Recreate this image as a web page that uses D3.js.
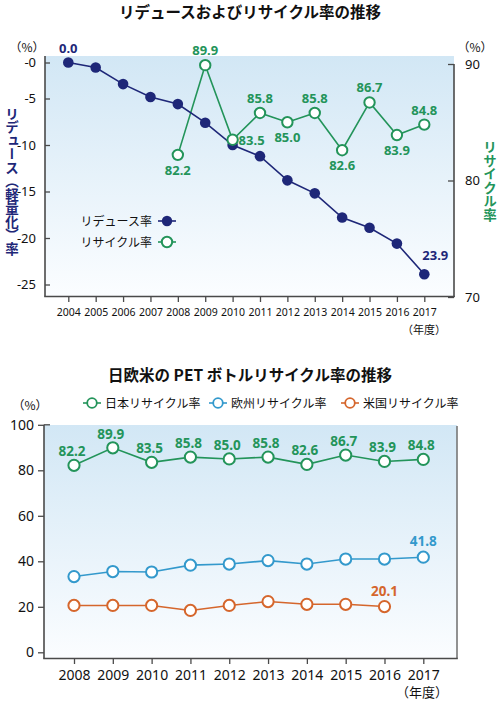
<!DOCTYPE html>
<html><head><meta charset="utf-8">
<script src="https://cdn.jsdelivr.net/npm/d3@7"></script>
<style>
html,body{margin:0;padding:0;background:#fff;}
svg{display:block;font-family:"Noto Sans CJK JP","Noto Sans",sans-serif;}
</style></head>
<body>
<script>
// ---------- data ----------
const reduceYears = [2004,2005,2006,2007,2008,2009,2010,2011,2012,2013,2014,2015,2016,2017];
const reduceRate  = [0.0,-0.7,-3.0,-4.8,-5.6,-7.6,-10.0,-11.2,-13.8,-15.2,-17.8,-18.9,-20.6,-23.9];
const recycleYears = [2008,2009,2010,2011,2012,2013,2014,2015,2016,2017];
const recycleRate  = [82.2,89.9,83.5,85.8,85.0,85.8,82.6,86.7,83.9,84.8];
const leftTicks  = [0,-5,-10,-15,-20,-25];
const rightTicks = [70,80,90];

const pYears = [2008,2009,2010,2011,2012,2013,2014,2015,2016,2017];
const japanRate  = [82.2,89.9,83.5,85.8,85.0,85.8,82.6,86.7,83.9,84.8];
const europeRate = [33.3,35.5,35.3,38.3,38.8,40.3,38.8,41.0,41.0,41.8];
const usaYears   = [2008,2009,2010,2011,2012,2013,2014,2015,2016];
const usaRate    = [20.6,20.6,20.6,18.4,20.6,22.3,21.1,21.1,20.1];
const bottomTicks = [0,20,40,60,80,100];

const title1 = "リデュースおよびリサイクル率の推移";
const title2 = "日欧米の PET ボトルリサイクル率の推移";

// ---------- styles ----------
const NAVY = "#1e2778", GREEN = "#23945a", BLUE = "#3399cc", ORANGE = "#d5662c", AXIS = "#4a4a4a";

const svg = d3.select("body").append("svg").attr("width",500).attr("height",702);
const defs = svg.append("defs");
const grad = defs.append("linearGradient").attr("id","bg").attr("x1",0).attr("y1",0).attr("x2",0).attr("y2",1);
grad.append("stop").attr("offset","0%").attr("stop-color","#d2e7f5");
grad.append("stop").attr("offset","100%").attr("stop-color","#fbfdff");

// ================= TOP CHART =================
svg.append("text").attr("x",250).attr("y",18).attr("text-anchor","middle")
  .attr("font-size",15.5).attr("font-weight","bold").attr("fill","#111").text(title1);

const x1 = d3.scalePoint().domain(reduceYears).range([68.3,424.3]);
const yL = d3.scaleLinear().domain([0,-5,-25]).range([62.5,98.5,284.5]);
const yR = d3.scaleLinear().domain([70,90]).range([297,64]);

svg.append("rect").attr("x",45).attr("y",56).attr("width",409).attr("height",240).attr("fill","url(#bg)");

// left axis
const gL = svg.append("g").attr("transform","translate(45,0)")
  .call(d3.axisLeft(yL).tickValues(leftTicks).tickSize(-5).tickPadding(9)
    .tickFormat(d => "-" + Math.abs(d)));
gL.select(".domain").remove();
gL.selectAll(".tick line").attr("stroke",AXIS).attr("stroke-width",1.3);
gL.selectAll(".tick text").attr("font-size",13).attr("fill","#111").attr("font-family","Noto Sans, sans-serif");
svg.append("line").attr("x1",45).attr("x2",45).attr("y1",56).attr("y2",296.5).attr("stroke",AXIS).attr("stroke-width",1.6);

// right axis
const gR = svg.append("g").attr("transform","translate(454,0)")
  .call(d3.axisRight(yR).tickValues(rightTicks).tickSize(-6).tickPadding(11));
gR.select(".domain").remove();
gR.selectAll(".tick line").attr("stroke",AXIS).attr("stroke-width",1.3);
gR.selectAll(".tick text").attr("font-size",13).attr("fill","#111").attr("font-family","Noto Sans, sans-serif");
svg.append("line").attr("x1",454).attr("x2",454).attr("y1",64).attr("y2",297).attr("stroke",AXIS).attr("stroke-width",1.6);

// bottom axis
const gX1 = svg.append("g").attr("transform","translate(0,296)")
  .call(d3.axisBottom(x1).tickSize(6).tickPadding(7));
gX1.select(".domain").remove();
gX1.selectAll(".tick line").attr("stroke",AXIS).attr("stroke-width",1.3);
gX1.selectAll(".tick text").attr("font-size",10.5).attr("fill","#111").attr("font-family","Noto Sans, sans-serif");
svg.append("line").attr("x1",44.2).attr("x2",454.8).attr("y1",296.5).attr("y2",296.5).attr("stroke",AXIS).attr("stroke-width",1.6);
svg.append("text").attr("x",424).attr("y",334).attr("text-anchor","middle").attr("font-size",11).attr("fill","#111").text("（年度）");

// units
svg.append("text").attr("x",27).attr("y",52).attr("text-anchor","middle").attr("font-size",12).attr("fill","#111").text("（%）");
svg.append("text").attr("x",475).attr("y",52).attr("text-anchor","middle").attr("font-size",12).attr("fill","#111").text("（%）");

// axis titles (vertical)
svg.append("text").attr("x",12).attr("y",181).attr("text-anchor","middle")
  .style("writing-mode","vertical-rl").attr("font-size",13.5).attr("font-weight","bold").attr("fill",NAVY)
  .text("リデュース（軽量化）率");
svg.append("text").attr("x",490).attr("y",181).attr("text-anchor","middle")
  .style("writing-mode","vertical-rl").attr("font-size",13.5).attr("font-weight","bold").attr("fill",GREEN)
  .text("リサイクル率");

// recycle line (green)
const recData = recycleYears.map((y,i)=>({y, v: recycleRate[i]}));
svg.append("path").datum(recData).attr("fill","none").attr("stroke",GREEN).attr("stroke-width",1.6)
  .attr("d", d3.line().x(d=>x1(d.y)).y(d=>yR(d.v)));
// reduce line (navy)
const redData = reduceYears.map((y,i)=>({y, v: reduceRate[i]}));
svg.append("path").datum(redData).attr("fill","none").attr("stroke",NAVY).attr("stroke-width",1.6)
  .attr("d", d3.line().x(d=>x1(d.y)).y(d=>yL(d.v)));
svg.selectAll(".red").data(redData).enter().append("circle")
  .attr("cx",d=>x1(d.y)).attr("cy",d=>yL(d.v)).attr("r",5.3).attr("fill",NAVY);
svg.selectAll(".rec").data(recData).enter().append("circle")
  .attr("cx",d=>x1(d.y)).attr("cy",d=>yR(d.v)).attr("r",5.2).attr("fill","#fff").attr("stroke",GREEN).attr("stroke-width",2);

// labels
const recPos = ["below","above","right","above","below","above","below","above","below","above"];
svg.selectAll(".recl").data(recData).enter().append("text")
  .attr("x",(d,i)=> recPos[i]==="right" ? x1(d.y)+19 : x1(d.y))
  .attr("y",(d,i)=> recPos[i]==="above" ? yR(d.v)-10 : recPos[i]==="below" ? yR(d.v)+20 : yR(d.v)+5)
  .attr("text-anchor","middle").attr("font-size",13).attr("font-weight","bold").attr("fill",GREEN)
  .attr("font-family","Noto Sans, sans-serif")
  .text(d=>d.v.toFixed(1));
const firstR = redData[0], lastR = redData[redData.length-1];
svg.append("text").attr("x",x1(firstR.y)).attr("y",yL(firstR.v)-10).attr("text-anchor","middle")
  .attr("font-size",13).attr("font-weight","bold").attr("fill",NAVY).attr("font-family","Noto Sans, sans-serif")
  .text(Math.abs(firstR.v).toFixed(1));
svg.append("text").attr("x",x1(lastR.y)+11).attr("y",yL(lastR.v)-14).attr("text-anchor","middle")
  .attr("font-size",13).attr("font-weight","bold").attr("fill",NAVY).attr("font-family","Noto Sans, sans-serif")
  .text(Math.abs(lastR.v).toFixed(1));

// legend top
const leg1 = [{t:"リデュース率", c:NAVY, filled:true, y:221},{t:"リサイクル率", c:GREEN, filled:false, y:242}];
leg1.forEach(l=>{
  svg.append("text").attr("x",152).attr("y",l.y+4.5).attr("text-anchor","end").attr("font-size",12).attr("fill","#111").text(l.t);
  svg.append("line").attr("x1",158).attr("x2",176).attr("y1",l.y).attr("y2",l.y).attr("stroke",l.c).attr("stroke-width",1.6);
  svg.append("circle").attr("cx",167).attr("cy",l.y).attr("r",5.2)
    .attr("fill", l.filled ? l.c : "#fff").attr("stroke", l.c).attr("stroke-width", l.filled?0:2);
});

// ================= BOTTOM CHART =================
svg.append("text").attr("x",250).attr("y",381).attr("text-anchor","middle")
  .attr("font-size",15.5).attr("font-weight","bold").attr("fill","#111").text(title2);

const x2 = d3.scalePoint().domain(pYears).range([74,423.3]);
const y2 = d3.scaleLinear().domain([0,100]).range([652.3,424.8]);

svg.append("rect").attr("x",44).attr("y",425).attr("width",413).attr("height",233).attr("fill","url(#bg)");

const gB = svg.append("g").attr("transform","translate(44,0)")
  .call(d3.axisLeft(y2).tickValues(bottomTicks).tickSize(6).tickPadding(4));
gB.select(".domain").remove();
gB.selectAll(".tick line").attr("stroke",AXIS).attr("stroke-width",1.3);
gB.selectAll(".tick text").attr("font-size",14).attr("fill","#111").attr("font-family","Noto Sans, sans-serif");
svg.append("line").attr("x1",44).attr("x2",44).attr("y1",424.8).attr("y2",658.5).attr("stroke",AXIS).attr("stroke-width",1.6);
svg.append("line").attr("x1",44).attr("x2",50).attr("y1",y2(100)).attr("y2",y2(100)).attr("stroke",AXIS).attr("stroke-width",1.3);
svg.append("line").attr("x1",457).attr("x2",457).attr("y1",426).attr("y2",658.5).attr("stroke","#777").attr("stroke-width",1.6);

const gX2 = svg.append("g").attr("transform","translate(0,658)")
  .call(d3.axisBottom(x2).tickSize(6).tickPadding(6));
gX2.select(".domain").remove();
gX2.selectAll(".tick line").attr("stroke",AXIS).attr("stroke-width",1.3);
gX2.selectAll(".tick text").attr("font-size",14).attr("fill","#111").attr("font-family","Noto Sans, sans-serif");
svg.append("line").attr("x1",43.2).attr("x2",457.8).attr("y1",658.5).attr("y2",658.5).attr("stroke",AXIS).attr("stroke-width",1.6);
svg.append("text").attr("x",422).attr("y",697).attr("text-anchor","middle").attr("font-size",13).attr("fill","#111").text("（年度）");
svg.append("text").attr("x",30).attr("y",410).attr("text-anchor","middle").attr("font-size",12).attr("fill","#111").text("（%）");

const series = [
  {name:"日本リサイクル率", c:GREEN, years:pYears, vals:japanRate, lx:92},
  {name:"欧州リサイクル率", c:BLUE, years:pYears, vals:europeRate, lx:218},
  {name:"米国リサイクル率", c:ORANGE, years:usaYears, vals:usaRate, lx:350}
];
series.forEach(s=>{
  const d = s.years.map((y,i)=>({y, v:s.vals[i]}));
  svg.append("path").datum(d).attr("fill","none").attr("stroke",s.c).attr("stroke-width",1.6)
    .attr("d", d3.line().x(p=>x2(p.y)).y(p=>y2(p.v)));
  svg.selectAll(null).data(d).enter().append("circle")
    .attr("cx",p=>x2(p.y)).attr("cy",p=>y2(p.v)).attr("r",5.6).attr("fill","#fff").attr("stroke",s.c).attr("stroke-width",2);
  // legend
  svg.append("line").attr("x1",s.lx-9).attr("x2",s.lx+9).attr("y1",403).attr("y2",403).attr("stroke",s.c).attr("stroke-width",1.6);
  svg.append("circle").attr("cx",s.lx).attr("cy",403).attr("r",4.8).attr("fill","#fff").attr("stroke",s.c).attr("stroke-width",1.8);
  svg.append("text").attr("x",s.lx+13).attr("y",407.5).attr("font-size",12).attr("fill","#111").text(s.name);
});
// labels: all japan, last of europe/usa
svg.selectAll(".jl").data(pYears.map((y,i)=>({y,v:japanRate[i]}))).enter().append("text")
  .attr("x",p=>x2(p.y)-2).attr("y",p=>y2(p.v)-9).attr("text-anchor","middle")
  .attr("font-size",13.5).attr("font-weight","bold").attr("fill",GREEN).attr("font-family","Noto Sans, sans-serif")
  .text(p=>p.v.toFixed(1));
[series[1], series[2]].forEach(s=>{
  const n = s.years.length-1;
  svg.append("text").attr("x",x2(s.years[n])).attr("y",y2(s.vals[n])-11).attr("text-anchor","middle")
    .attr("font-size",13.5).attr("font-weight","bold").attr("fill",s.c).attr("font-family","Noto Sans, sans-serif")
    .text(s.vals[n].toFixed(1));
});
</script>
</body></html>
